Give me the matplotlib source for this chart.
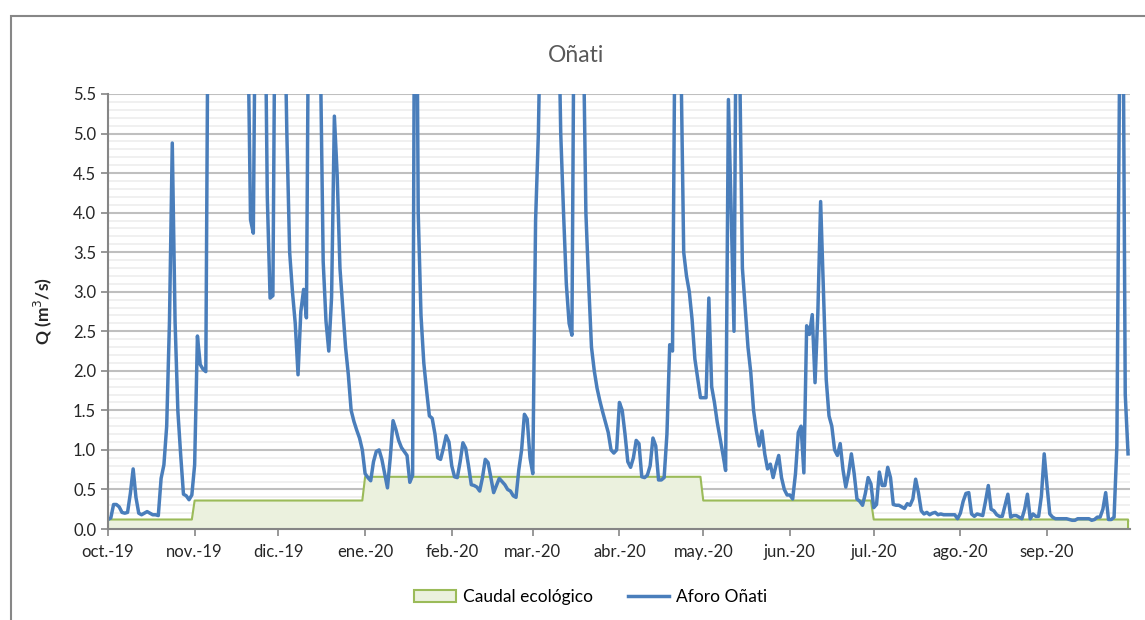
import numpy as np
import pandas as pd
import matplotlib
matplotlib.use('Agg')
import matplotlib.pyplot as plt
from matplotlib.patches import Patch, Rectangle
from matplotlib.lines import Line2D

plt.rcParams['font.family'] = ['Lato', 'DejaVu Sans']

inicio = pd.Timestamp('2019-10-01')
fin = pd.Timestamp('2020-09-30')

# caudal ecologico por mes (m3/s), oct-19 ... sep-20
caudal_eco = [0.12, 0.36, 0.36, 0.66, 0.66, 0.66, 0.66, 0.36, 0.36, 0.12, 0.12, 0.12]

# aforo Oñati: dias desde 1-oct-19 y caudal (m3/s)
dia = [0, 1, 2, 3, 4, 5, 6, 7, 8, 9, 10, 11, 12, 13, 14, 15, 16, 17, 18, 19,
       20, 21, 22, 23, 24, 25, 26, 27, 28, 29, 30, 31, 32, 33, 34, 35, 36, 40, 45, 50, 51,
       52, 53, 55, 56, 57, 58, 59, 60, 62, 63, 64, 65, 66, 67, 68, 69, 70, 71, 72, 74,
       76, 77, 78, 79, 80, 81, 82, 83, 84, 85, 86, 87, 88, 89, 90, 91, 92, 93, 94, 95,
       96, 97, 98, 99, 100, 101, 102, 103, 104, 105, 106, 107, 108, 109, 110, 111, 112, 113, 114, 115,
       116, 117, 118, 119, 120, 121, 122, 123, 124, 125, 126, 127, 128, 129, 130, 131, 132, 133, 134, 135,
       136, 137, 138, 139, 140, 141, 142, 143, 144, 145, 146, 147, 148, 149, 150, 151, 152, 153, 154, 155,
       158, 161, 162, 163, 164, 165, 166, 167, 169, 170, 171, 172, 173, 174, 175, 176, 177, 178, 179, 180,
       181, 182, 183, 184, 185, 186, 187, 188, 189, 190, 191, 192, 193, 194, 195, 196, 197, 198, 199, 200,
       201, 202, 203, 204, 205, 206, 207, 208, 209, 210, 211, 212, 213, 214, 215, 216, 217, 218, 219, 220,
       221, 222, 223, 224, 225, 226, 227, 228, 229, 230, 231, 232, 233, 234, 235, 236, 237, 238, 239, 240,
       241, 242, 243, 244, 245, 246, 247, 248, 249, 250, 251, 252, 253, 254, 255, 256, 257, 258, 259, 260,
       261, 262, 263, 264, 265, 266, 267, 268, 269, 270, 271, 272, 273, 274, 275, 276, 277, 278, 279, 280,
       281, 282, 283, 284, 285, 286, 287, 288, 289, 290, 291, 292, 293, 294, 295, 296, 297, 298, 299, 300,
       301, 302, 303, 304, 305, 306, 307, 308, 309, 310, 311, 312, 313, 314, 315, 316, 317, 318, 319, 320,
       321, 322, 323, 324, 325, 326, 327, 328, 329, 330, 331, 332, 333, 334, 335, 336, 337, 338, 339, 340,
       341, 342, 343, 344, 345, 346, 347, 348, 349, 350, 351, 352, 353, 354, 355, 356, 357, 358, 359, 360,
       361, 362, 363, 364, 365]
aforo = [0.12, 0.14, 0.31, 0.31, 0.28, 0.21, 0.20, 0.21, 0.45, 0.76, 0.40, 0.20, 0.18, 0.20, 0.22, 0.20, 0.18, 0.18, 0.17, 0.64,
         0.81, 1.30, 2.63, 4.88, 2.62, 1.49, 0.94, 0.44, 0.42, 0.37, 0.43, 0.81, 2.44, 2.08, 2.02, 1.99, 8.0, 12.0, 10.0, 6.5, 3.91,
         3.74, 8.0, 9.0, 7.5, 4.2, 2.92, 2.95, 8.0, 9.0, 7.0, 5.0, 3.5, 3.0, 2.6, 1.95, 2.75, 3.03, 2.67, 8.0, 10.0,
         6.0, 3.38, 2.63, 2.25, 2.93, 5.22, 4.48, 3.30, 2.8, 2.3, 1.95, 1.50, 1.36, 1.25, 1.15, 1.00, 0.70, 0.65, 0.61, 0.85,
         0.98, 1.00, 0.88, 0.70, 0.52, 0.90, 1.37, 1.26, 1.12, 1.03, 0.98, 0.93, 0.59, 0.68, 10.0, 4.0, 2.7, 2.1, 1.75, 1.43,
         1.40, 1.20, 0.90, 0.88, 1.02, 1.18, 1.10, 0.80, 0.66, 0.65, 0.85, 1.09, 1.02, 0.80, 0.56, 0.55, 0.53, 0.48, 0.65, 0.88,
         0.84, 0.65, 0.46, 0.55, 0.64, 0.60, 0.56, 0.50, 0.48, 0.42, 0.40, 0.75, 1.00, 1.45, 1.39, 0.90, 0.70, 3.9, 5.0, 7.0,
         12.0, 7.0, 5.0, 4.0, 3.1, 2.6, 2.45, 8.0, 10.0, 6.5, 4.0, 3.1, 2.3, 2.0, 1.78, 1.62, 1.48, 1.35, 1.22, 1.00,
         0.96, 1.00, 1.60, 1.50, 1.20, 0.85, 0.78, 0.90, 1.12, 1.08, 0.66, 0.65, 0.68, 0.80, 1.15, 1.05, 0.62, 0.62, 0.65, 1.20,
         2.33, 2.25, 7.0, 9.0, 6.0, 3.5, 3.2, 3.0, 2.65, 2.15, 1.90, 1.66, 1.66, 1.66, 2.92, 1.80, 1.60, 1.35, 1.15, 0.95,
         0.74, 5.43, 4.00, 2.50, 8.0, 6.0, 3.3, 2.8, 2.3, 1.98, 1.50, 1.24, 1.05, 1.24, 0.95, 0.76, 0.82, 0.65, 0.80, 0.93,
         0.65, 0.50, 0.43, 0.43, 0.38, 0.70, 1.22, 1.30, 0.71, 2.57, 2.46, 2.71, 1.85, 2.73, 4.14, 3.00, 1.89, 1.43, 1.30, 1.00,
         0.93, 1.08, 0.75, 0.53, 0.70, 0.95, 0.70, 0.38, 0.35, 0.30, 0.45, 0.65, 0.57, 0.27, 0.31, 0.72, 0.55, 0.55, 0.78, 0.65,
         0.31, 0.30, 0.30, 0.28, 0.26, 0.32, 0.30, 0.38, 0.63, 0.46, 0.23, 0.19, 0.21, 0.18, 0.20, 0.21, 0.18, 0.19, 0.18, 0.18,
         0.18, 0.18, 0.18, 0.13, 0.20, 0.35, 0.45, 0.46, 0.19, 0.16, 0.19, 0.18, 0.17, 0.35, 0.55, 0.25, 0.23, 0.18, 0.16, 0.16,
         0.30, 0.44, 0.15, 0.17, 0.17, 0.15, 0.13, 0.25, 0.44, 0.13, 0.19, 0.16, 0.16, 0.42, 0.95, 0.55, 0.19, 0.15, 0.13, 0.13,
         0.13, 0.13, 0.13, 0.12, 0.11, 0.11, 0.13, 0.13, 0.13, 0.13, 0.13, 0.11, 0.12, 0.15, 0.15, 0.25, 0.46, 0.12, 0.12, 0.15,
         1.05, 6.0, 8.0, 1.70, 0.95]

meses = ['oct.-19', 'nov.-19', 'dic.-19', 'ene.-20', 'feb.-20', 'mar.-20',
         'abr.-20', 'may.-20', 'jun.-20', 'jul.-20', 'ago.-20', 'sep.-20']

fechas = inicio + pd.to_timedelta(dia, unit='D')
dias_eco = pd.date_range(inicio, fin, freq='D')
eco = np.array([caudal_eco[(d.year - 2019) * 12 + d.month - 10] for d in dias_eco])

azul = '#4A7EBB'
verde = '#9BBB59'
verde_claro = '#EBF1DE'
gris = '#868686'

fig = plt.figure(figsize=(11.45, 6.2), dpi=100)
ax = fig.add_axes([108 / 1145, 91 / 620, 1022 / 1145, 435 / 620])

# marco del grafico
fig.patches.append(Rectangle((11 / 1145, -0.1), 1.2, 1 - 16 / 620 + 0.1, transform=fig.transFigure,
                             fill=False, edgecolor='#878787', linewidth=1.5, zorder=0))

ax.fill_between(dias_eco, 0, eco, facecolor=verde_claro, edgecolor='none', zorder=2)
ax.plot(np.r_[dias_eco[:1], dias_eco, dias_eco[-1:]], np.r_[0, eco, 0], color=verde, lw=1.5, zorder=3)
ax.plot(fechas, aforo, color=azul, lw=2.5, zorder=4, solid_joinstyle='round')

ax.set_ylim(0, 5.5)
ax.set_xlim(inicio, inicio + pd.Timedelta(days=365.7))
ax.set_yticks(np.arange(0, 5.51, 0.5))
ax.set_yticks(np.arange(0, 5.51, 0.1), minor=True)
ax.set_yticklabels([f'{v:.1f}' for v in np.arange(0, 5.51, 0.5)])
ticks_x = pd.date_range(inicio, periods=12, freq='MS')
ax.set_xticks(ticks_x)
ax.set_xticklabels(meses)

ax.grid(axis='y', which='major', color='#BFBFBF', lw=1.5, zorder=0)
ax.grid(axis='y', which='minor', color='#EEEEEE', lw=1.2, zorder=0)
ax.set_axisbelow(True)
for s in ['top', 'right']:
    ax.spines[s].set_visible(False)
for s in ['left', 'bottom']:
    ax.spines[s].set_color(gris)
    ax.spines[s].set_linewidth(1.5)
    ax.spines[s].set_zorder(5)
ax.tick_params(axis='both', which='major', length=5, width=1.2, color=gris, labelsize=12, labelcolor='#262626')
ax.tick_params(axis='y', which='minor', length=0)
ax.tick_params(axis='x', pad=6)

ax.set_ylabel('Q (m$^3$/s)', fontsize=12.5, fontweight='bold', color='#262626', labelpad=14)
fig.text(576 / 1145, 1 - 55 / 620, 'Oñati', ha='center', va='center', fontsize=16.5, color='#595959')

handles = [Patch(facecolor=verde_claro, edgecolor=verde, linewidth=1.5),
           Line2D([], [], color=azul, lw=2.5)]
fig.legend(handles, ['Caudal ecológico', 'Aforo Oñati'], loc='center', bbox_to_anchor=(0.516, 1 - 597 / 620),
           ncol=2, frameon=False, fontsize=12.5, handlelength=2.4, columnspacing=2.0, handletextpad=0.4)

fig.savefig('out.png', dpi=100)
